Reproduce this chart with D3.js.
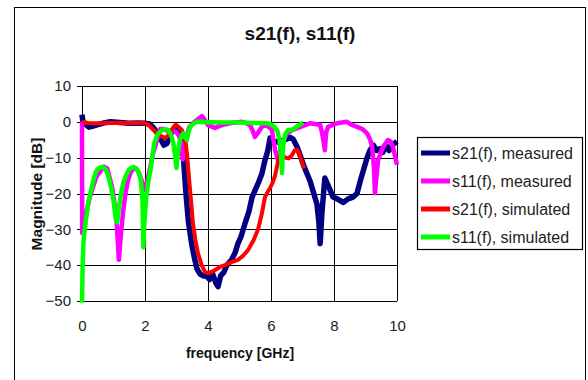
<!DOCTYPE html>
<html>
<head>
<meta charset="utf-8">
<script src="https://cdn.jsdelivr.net/npm/d3@7/dist/d3.min.js"></script>
<style>
  body { margin: 0; background: #fff; }
  svg { display: block; font-family: "Liberation Sans", Arial, sans-serif; }
</style>
</head>
<body>
<div class="chart"></div>
<script>
// values: [frequency GHz, magnitude dB]
const s21Measured = [[0,2],[0.03,0],[0.12,-0.8],[0.22,-1.5],[0.35,-1.2],[0.5,-0.8],[0.7,-0.3],[0.9,0],[1.2,-0.2],[1.5,-0.4],[1.8,-0.3],[2.0,-0.4],[2.15,-0.6],[2.3,-2],[2.45,-4],[2.6,-6.5],[2.7,-6],[2.8,-3.5],[2.95,-1.5],[3.05,-2.5],[3.15,-5],[3.22,-10],[3.3,-20],[3.38,-28],[3.48,-34],[3.57,-38],[3.65,-41],[3.75,-42.5],[3.85,-43],[3.95,-43],[4.05,-44],[4.15,-42.5],[4.25,-45],[4.32,-46],[4.4,-43],[4.5,-42],[4.6,-40],[4.75,-38.5],[4.86,-36.5],[4.95,-34],[5.05,-32],[5.17,-28.5],[5.3,-25],[5.4,-21],[5.5,-19],[5.6,-17],[5.71,-14.5],[5.8,-11],[5.9,-8],[5.97,-4.5],[6.08,-5.6],[6.2,-5.5],[6.3,-6],[6.4,-5],[6.5,-4.8],[6.6,-4.3],[6.7,-4.8],[6.83,-7],[6.95,-10],[7.05,-12.5],[7.24,-16.5],[7.46,-23],[7.52,-28],[7.56,-34],[7.62,-25],[7.71,-15.7],[7.85,-18.5],[7.97,-21],[8.1,-21.5],[8.29,-22.5],[8.45,-21.5],[8.6,-21],[8.73,-20],[8.85,-16],[8.95,-13],[9.05,-10],[9.14,-8],[9.25,-6.5],[9.35,-8],[9.46,-7.5],[9.55,-8.5],[9.65,-6.5],[9.75,-8],[9.85,-6.5],[10,-5.5]];

const s11Measured = [[0,0],[0.005,-31],[0.05,-29],[0.13,-25.5],[0.25,-21],[0.35,-18.2],[0.45,-15.5],[0.54,-14.3],[0.7,-12.5],[0.8,-13],[0.86,-15],[0.95,-18],[1.02,-22],[1.1,-28],[1.17,-38.5],[1.22,-33],[1.3,-25.5],[1.38,-20],[1.46,-16.3],[1.55,-14],[1.65,-12.9],[1.75,-13.3],[1.81,-14.3],[1.9,-16.5],[1.97,-19],[2.03,-18],[2.1,-15.4],[2.17,-12.5],[2.25,-9],[2.35,-6],[2.48,-2],[2.6,-2],[2.7,-2.5],[2.86,-2.5],[2.95,-2.5],[3.1,-4],[3.2,-10.5],[3.27,-6],[3.4,-1.5],[3.52,-0.4],[3.65,0.5],[3.81,1.6],[3.9,0.5],[4.0,-0.9],[4.22,-1.7],[4.44,-0.9],[4.7,-0.4],[5.08,0],[5.2,-0.3],[5.33,-0.9],[5.42,-2.5],[5.49,-4.2],[5.59,-3],[5.7,-1.5],[5.81,-0.9],[5.95,-1.5],[6.03,-2.3],[6.13,-7.9],[6.22,-10.7],[6.3,-8],[6.35,-6],[6.51,-3.2],[6.67,-2.3],[6.86,-1.7],[7.08,-0.9],[7.24,-0.4],[7.4,-0.6],[7.56,-0.9],[7.62,-3],[7.65,-4.5],[7.71,-7.9],[7.75,-3],[7.81,-1.4],[8.1,-0.4],[8.41,0],[8.55,-0.8],[8.73,-1.4],[8.9,-2],[9.05,-3.2],[9.15,-5],[9.21,-7],[9.27,-13],[9.3,-19.9],[9.35,-15],[9.4,-10.7],[9.56,-7],[9.71,-5.1],[9.8,-5.5],[9.87,-7],[9.95,-10],[10,-12]];

const s21Simulated = [[0,0],[0.2,-0.3],[0.5,-0.4],[1,-0.3],[1.5,-0.3],[1.9,-0.3],[2.05,-0.5],[2.16,-1.3],[2.3,-2.5],[2.48,-3.8],[2.63,-4.5],[2.72,-4],[2.8,-2.9],[2.9,-1.5],[2.97,-0.8],[3.05,-1.3],[3.17,-2.3],[3.27,-4.5],[3.33,-8.7],[3.43,-19],[3.52,-28],[3.6,-33],[3.68,-36.6],[3.8,-40],[3.9,-41.8],[4.0,-42.2],[4.2,-41.5],[4.38,-40.5],[4.54,-40],[4.7,-39.3],[4.95,-38.5],[5.1,-37.5],[5.27,-35.8],[5.45,-33],[5.59,-30],[5.7,-26],[5.81,-21],[5.9,-19.5],[5.97,-18.5],[6.05,-17],[6.13,-15],[6.2,-12],[6.27,-9.5],[6.35,-9],[6.45,-10],[6.55,-10.2],[6.65,-9.5],[6.75,-8],[6.83,-7.8],[6.9,-9],[6.98,-11],[7.05,-13]];

const s11Simulated = [[0,-50.5],[0.02,-40],[0.05,-33],[0.13,-27],[0.2,-22.5],[0.29,-19],[0.37,-16],[0.44,-14],[0.52,-13],[0.6,-12.6],[0.68,-12.7],[0.76,-13.4],[0.85,-15.5],[0.92,-18.2],[1.0,-22],[1.08,-27.4],[1.12,-28],[1.17,-24],[1.24,-19.9],[1.32,-16.8],[1.4,-14.9],[1.48,-13.5],[1.56,-12.9],[1.64,-12.6],[1.71,-12.9],[1.8,-14.2],[1.87,-16.3],[1.92,-22],[1.95,-35],[1.98,-28],[2.04,-21],[2.1,-17],[2.19,-12.6],[2.29,-6],[2.4,-3.5],[2.54,-2.3],[2.65,-2],[2.73,-2.3],[2.82,-3.5],[2.89,-5.6],[2.95,-9],[3.0,-12.9],[3.05,-8],[3.11,-5.1],[3.21,-3.2],[3.27,-4],[3.33,-5.1],[3.38,-3],[3.43,-1.4],[3.55,-0.4],[3.65,0],[4.0,-0.1],[4.5,-0.2],[5.0,-0.2],[5.5,-0.3],[5.9,-0.4],[6.05,-1],[6.13,-1.6],[6.2,-2.5],[6.27,-5],[6.32,-10],[6.35,-14.3],[6.38,-7],[6.45,-3.5],[6.54,-2.3],[6.65,-2.3],[6.76,-1.7],[6.88,-1],[6.98,-0.4],[7.02,-0.3]];

const seriesNames = ["s21(f), measured", "s11(f), measured", "s21(f), simulated", "s11(f), simulated"];
const seriesColors = ["#000080", "#ff00ff", "#ff0000", "#00ff00"];
const xTicks = [0, 2, 4, 6, 8, 10];
const yTicks = [10, 0, -10, -20, -30, -40, -50];

const width = 588, height = 380;
const plot = { left: 82, right: 397, top: 86, bottom: 301 };

let svg = d3.select(".chart")
  .append("svg")
    .attr("width", width)
    .attr("height", height);

// outer frame of the chart
svg.append("rect")
  .attr("x", 14.5).attr("y", 7.5)
  .attr("width", 571).attr("height", 380)
  .attr("fill", "white").attr("stroke", "black");

let x = d3.scaleLinear().domain([0, 10]).range([plot.left, plot.right]);
let y = d3.scaleLinear().domain([-50, 10]).range([plot.bottom, plot.top]);

// grid lines
svg.append("g")
  .selectAll("line")
  .data(xTicks)
  .enter()
  .append("line")
    .attr("x1", d => Math.round(x(d)) + 0.5).attr("x2", d => Math.round(x(d)) + 0.5)
    .attr("y1", plot.top).attr("y2", plot.bottom)
    .attr("stroke", "black");

svg.append("g")
  .selectAll("line")
  .data(yTicks)
  .enter()
  .append("line")
    .attr("x1", plot.left - 5).attr("x2", plot.right)
    .attr("y1", d => Math.round(y(d)) + 0.5).attr("y2", d => Math.round(y(d)) + 0.5)
    .attr("stroke", "black");

// tick labels via the axis generators
let xAxis = svg.append("g")
  .attr("transform", "translate(0," + plot.bottom + ")")
  .call(d3.axisBottom(x).tickValues(xTicks).tickSize(0).tickPadding(19).tickFormat(d3.format("d")));

let yAxis = svg.append("g")
  .attr("transform", "translate(" + plot.left + ",0)")
  .call(d3.axisLeft(y).tickValues(yTicks).tickSize(0).tickPadding(11).tickFormat(d3.format("d")));

[xAxis, yAxis].forEach(a => {
  a.select(".domain").remove();
  a.selectAll("text")
    .attr("fill", "#222")
    .style("font-family", "Liberation Sans, Arial, sans-serif")
    .style("font-size", "15px");
});

// the curves, Excel order so that simulated sits on top
let line = d3.line()
  .x(d => x(d[0]))
  .y(d => y(d[1]));

let allSeries = [s21Measured, s11Measured, s21Simulated, s11Simulated];
let widths = [5.5, 4.5, 4, 4.5];

svg.append("g")
  .selectAll("path")
  .data(allSeries)
  .enter()
  .append("path")
    .attr("d", line)
    .attr("fill", "none")
    .attr("stroke", (d, i) => seriesColors[i])
    .attr("stroke-width", (d, i) => widths[i])
    .attr("stroke-linejoin", "round");

// title and axis titles
svg.append("text")
  .text("s21(f), s11(f)")
  .attr("x", 300).attr("y", 40)
  .attr("text-anchor", "middle")
  .style("font-weight", "bold")
  .style("font-size", "19px")
  .attr("fill", "#111");

svg.append("text")
  .text("frequency [GHz]")
  .attr("x", 240).attr("y", 358)
  .attr("text-anchor", "middle")
  .style("font-weight", "bold")
  .style("font-size", "14px")
  .attr("fill", "#111");

svg.append("text")
  .text("Magnitude [dB]")
  .attr("transform", "translate(42,194) rotate(-90)")
  .attr("text-anchor", "middle")
  .style("font-weight", "bold")
  .style("font-size", "15.5px")
  .attr("fill", "#111");

// legend
let legend = svg.append("g");
legend.append("rect")
  .attr("x", 417.5).attr("y", 137.5)
  .attr("width", 165).attr("height", 112)
  .attr("fill", "white").attr("stroke", "black").attr("stroke-width", 1.2);

let rows = legend.selectAll("g.row")
  .data(seriesNames)
  .enter()
  .append("g")
    .attr("class", "row")
    .attr("transform", (d, i) => "translate(0," + (153 + i * 28) + ")");

rows.append("line")
  .attr("x1", 421).attr("x2", 450)
  .attr("stroke", (d, i) => seriesColors[i])
  .attr("stroke-width", 5);

rows.append("text")
  .text(d => d)
  .attr("x", 452).attr("dy", "0.36em")
  .style("font-size", "16px")
  .attr("fill", "#222");
</script>
</body>
</html>
